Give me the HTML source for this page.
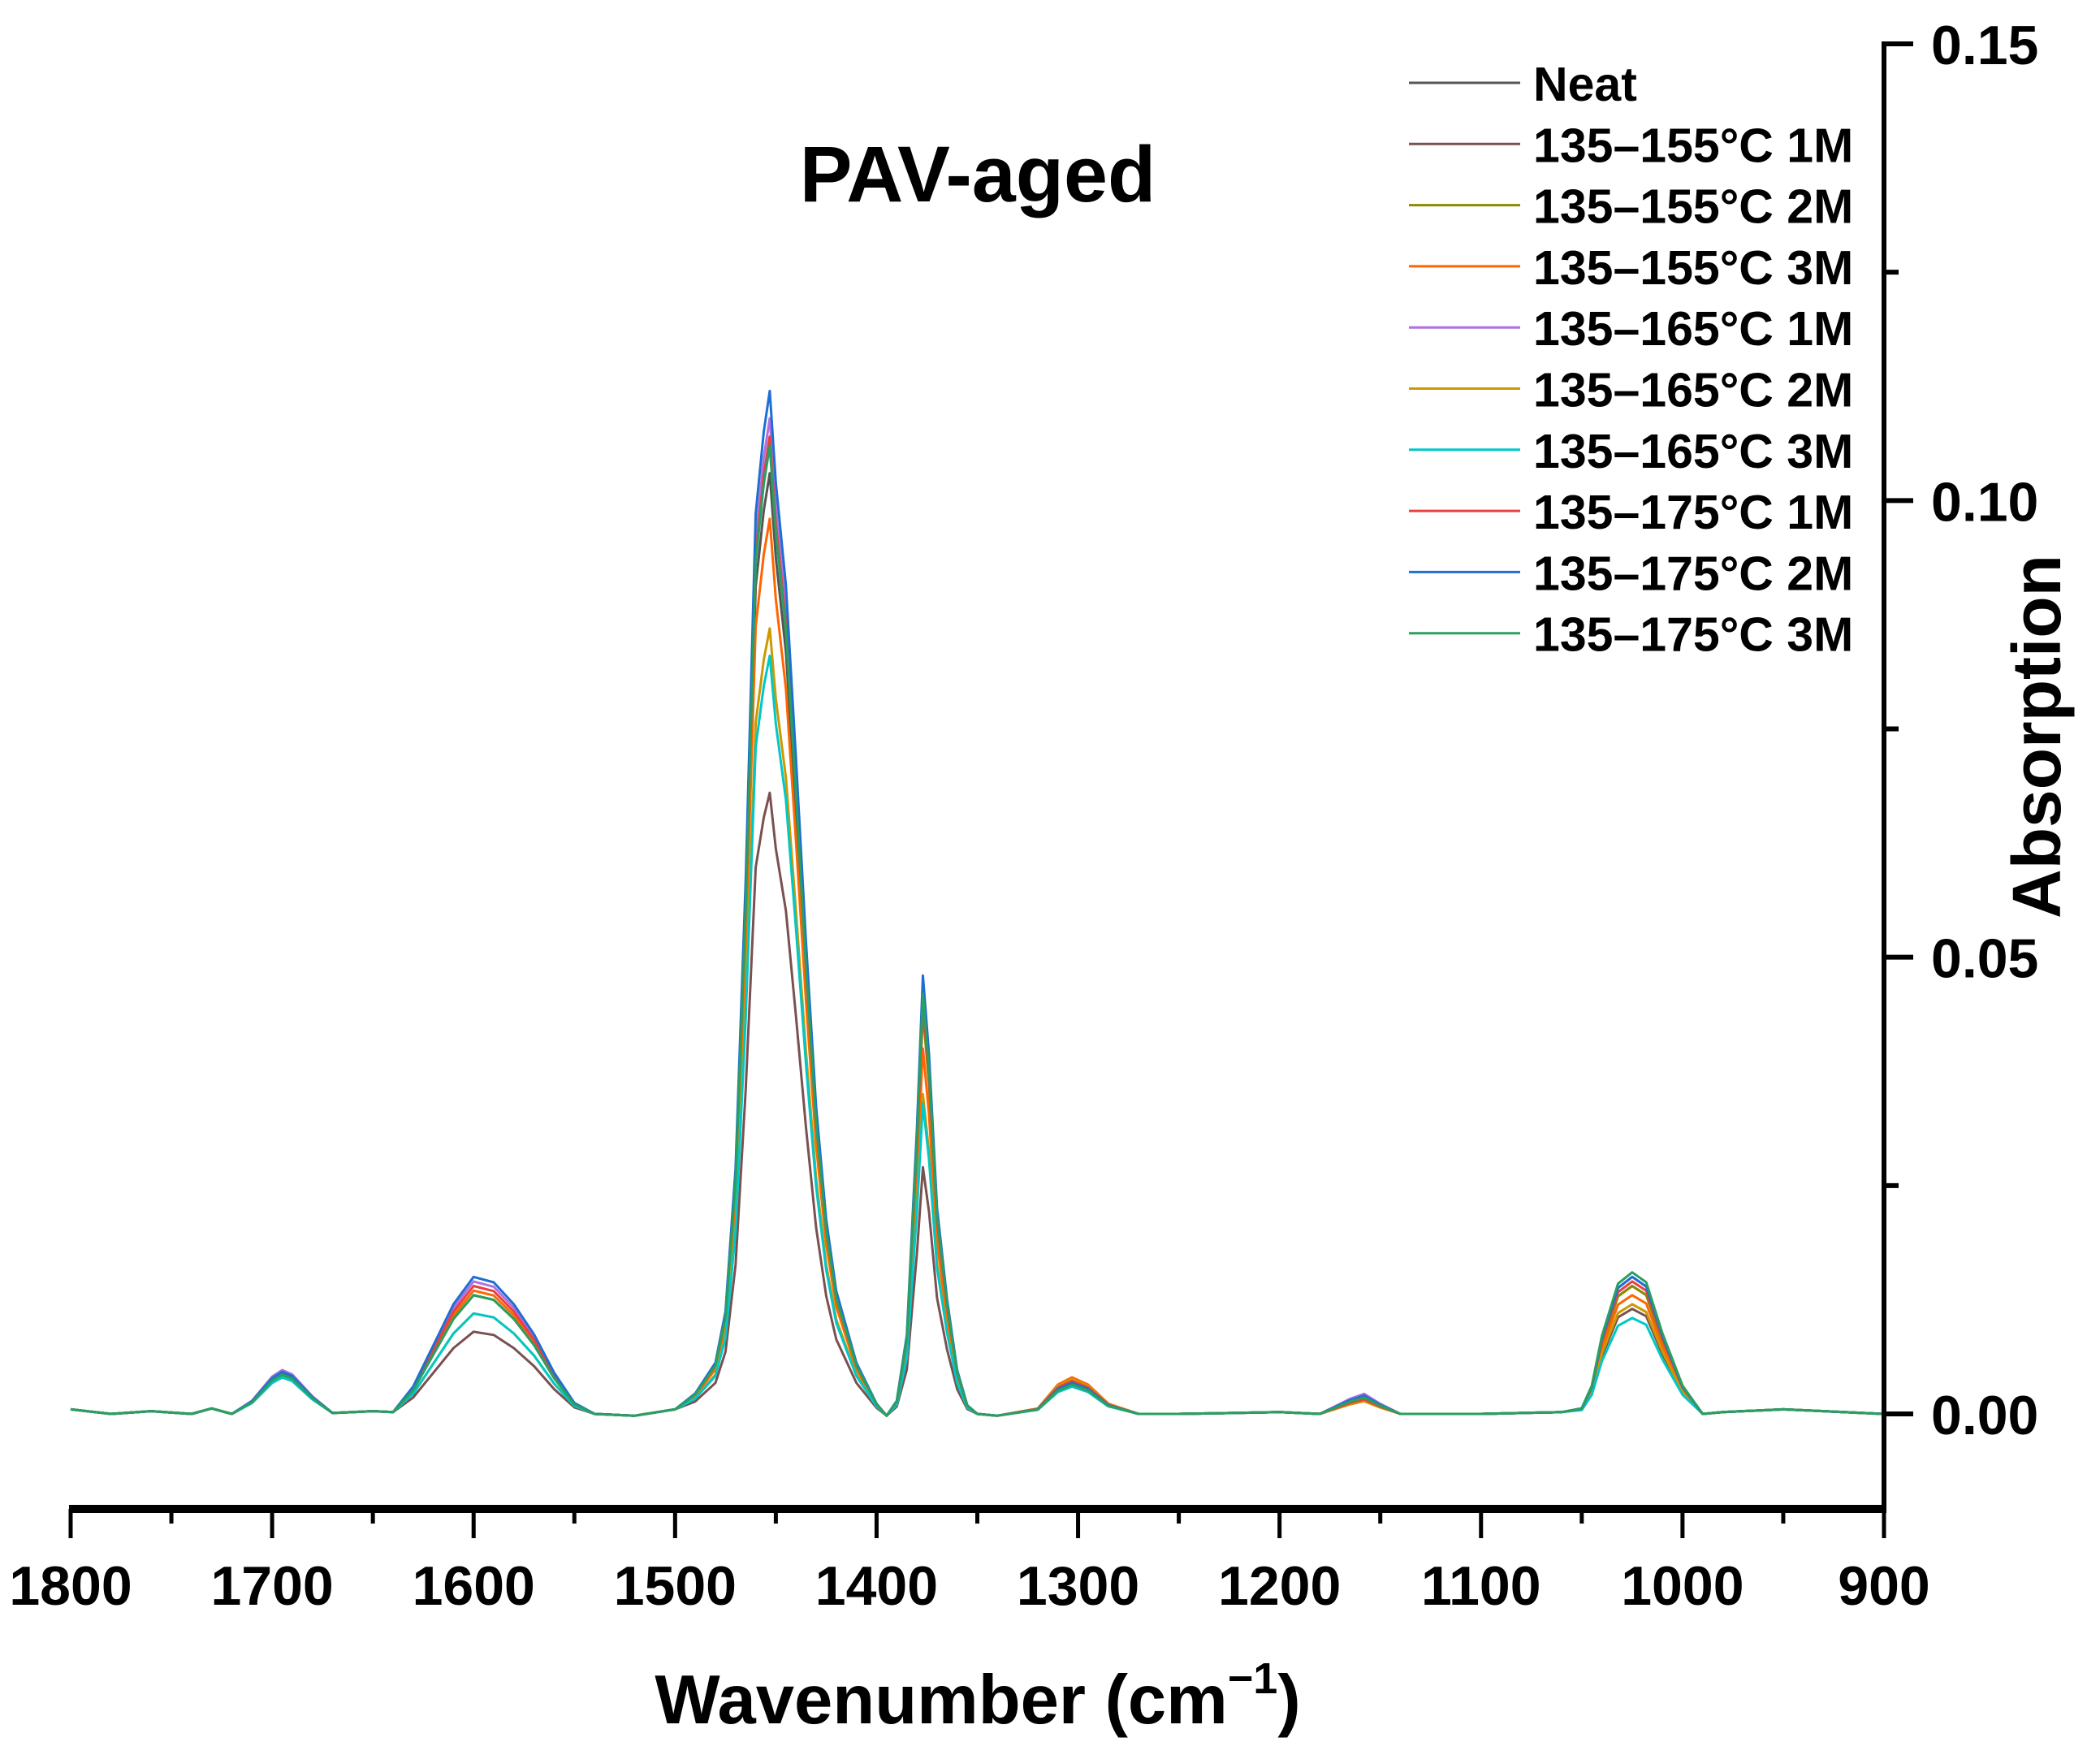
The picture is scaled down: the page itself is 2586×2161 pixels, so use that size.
<!DOCTYPE html>
<html><head><meta charset="utf-8"><style>
html,body{margin:0;padding:0;background:#fff;}
svg{display:block;font-family:"Liberation Sans",Arial,sans-serif;font-weight:bold;}
</style></head><body>
<svg id="chart" width="2586" height="2161" viewBox="0 0 2586 2161" xmlns="http://www.w3.org/2000/svg">
<g id="plot"></g>
<g id="axes"></g>
<g id="legend"></g>
<text x="1204" y="248" font-size="97" text-anchor="middle">PAV-aged</text>
<text x="1204" y="2122" font-size="85" text-anchor="middle">Wavenumber (cm<tspan font-size="54" dy="-37">−1</tspan><tspan dy="37">)</tspan></text>
<text transform="translate(2537,907) rotate(-90)" font-size="84" text-anchor="middle">Absorption</text>
</svg>
<script>
// ---- data ----
const seriesNames = ["Neat","135–155°C 1M","135–155°C 2M","135–155°C 3M","135–165°C 1M","135–165°C 2M","135–165°C 3M","135–175°C 1M","135–175°C 2M","135–175°C 3M"];
const seriesColors = ["#555555","#7a5050","#8b8b00","#ff6600","#b070e0","#cc9900","#00c8c8","#e84040","#1f6ed4","#2aa060"];
// band peak heights (absorbance) per series: 1700, 1600, 1456, 1377, 1303, 1160, 1025 bands
const band1700 = [0.0045,0.0040,0.0042,0.0044,0.0048,0.0043,0.0040,0.0045,0.0046,0.0043];
const band1600 = [0.0130,0.0090,0.0130,0.0135,0.0145,0.0110,0.0110,0.0140,0.0150,0.0130];
const band1456 = [0.103,0.068,0.107,0.098,0.109,0.086,0.083,0.107,0.112,0.106];
const band1377 = [0.045,0.027,0.044,0.040,0.046,0.035,0.034,0.045,0.048,0.046];
const band1303 = [0.0035,0.0030,0.0038,0.0040,0.0036,0.0038,0.0030,0.0036,0.0034,0.0032];
const band1160 = [0.0018,0.0015,0.0016,0.0014,0.0022,0.0014,0.0020,0.0016,0.0020,0.0018];
const band1025 = [0.0140,0.0115,0.0140,0.0130,0.0150,0.0120,0.0105,0.0145,0.0150,0.0155];
// shared normalized band profile: [wavenumber, band index (0 = absolute baseline), fraction]
const profileWn =   [1800,1780,1760,1740,1730,1720,1710,1700,1695,1690,1680,1670,1650,1640,1630,1620,1610,1600,1590,1580,1570,1560,1550,1540,1520,1500,1490,1480,1475,1470,1465,1460,1456,1453,1450,1445,1440,1435,1430,1425,1420,1410,1400,1395,1390,1385,1380,1377,1374,1370,1365,1360,1355,1350,1340,1320,1310,1303,1295,1285,1270,1250,1200,1180,1165,1158,1150,1140,1100,1060,1050,1045,1040,1032,1025,1018,1010,1000,990,980,950,920,900];
const profileBand = [0,0,0,0,0,0,1,1,1,1,1,0,0,0,2,2,2,2,2,2,2,2,2,0,0,0,3,3,3,3,3,3,3,3,3,3,3,3,3,3,3,3,3,0,4,4,4,4,4,4,4,4,4,0,0,5,5,5,5,5,0,0,0,0,6,6,6,0,0,0,7,7,7,7,7,7,7,7,0,0,0,0,0];
const profileFrac = [0.0005,0,0.0003,0,0.0006,0,0.3,0.85,1,0.9,0.4,0.0001,0.0003,0.0002,0.2,0.5,0.8,1,0.96,0.8,0.58,0.3,0.08,0,-0.0002,0.0005,0.02,0.05,0.1,0.24,0.52,0.88,0.96,1,0.91,0.81,0.64,0.46,0.3,0.19,0.12,0.05,0.01,-0.0002,0.03,0.18,0.65,1,0.82,0.47,0.26,0.1,0.02,0,-0.0002,0.15,0.8,1,0.8,0.28,0,0,0.0002,0,0.75,1,0.5,0,0,0.0002,0.04,0.2,0.55,0.92,1,0.93,0.57,0.2,0,0.0002,0.0005,0.0002,0];
const xTicks = [1800,1700,1600,1500,1400,1300,1200,1100,1000,900];
const yTicks = [0.00,0.05,0.10,0.15];

// ---- scales ----
const X0=87, X1=2320, Y0=1741, Y15=54, YB=1858;
function xs(w){return X0+(1800-w)/900*(X1-X0);}
function ys(v){return Y0-v/0.15*(Y0-Y15);}
const NS="http://www.w3.org/2000/svg";
function mk(tag,attrs,parent){const e=document.createElementNS(NS,tag);for(const k in attrs)e.setAttribute(k,attrs[k]);parent.appendChild(e);return e;}
const bands=[null,band1700,band1600,band1456,band1377,band1303,band1160,band1025];
const plot=document.getElementById('plot');
for(let s=0;s<seriesNames.length;s++){
  const pts=[];
  for(let i=0;i<profileWn.length;i++){
    const b=profileBand[i];
    const v=b===0?profileFrac[i]:profileFrac[i]*bands[b][s];
    pts.push(xs(profileWn[i]).toFixed(1)+','+ys(v).toFixed(1));
  }
  const pl=mk('polyline',{points:pts.join(' '),fill:'none',stroke:seriesColors[s],'stroke-width':3,'stroke-linejoin':'round'},plot);
  
  
}
const axes=document.getElementById('axes');
const xa=mk('line',{x1:X0-2,y1:YB,x2:X1+3,y2:YB,stroke:'#000','stroke-width':10},axes);


const ya=mk('line',{x1:X1,y1:Y15-3,x2:X1,y2:YB,stroke:'#000','stroke-width':6},axes);


for(let i=0;i<xTicks.length;i++){
  const x=xs(xTicks[i]);
  const t=mk('line',{x1:x,y1:YB,x2:x,y2:YB+36,stroke:'#000','stroke-width':5},axes);
  
  
  if(i<xTicks.length-1){
    const m=xs(xTicks[i]-50);
    const mt=mk('line',{x1:m,y1:YB,x2:m,y2:YB+18,stroke:'#000','stroke-width':5},axes);
    
    
  }
  const lb=mk('text',{x:x,y:1976,'font-size':68,'text-anchor':'middle'},axes);
  lb.textContent=String(xTicks[i]);
  
  
}
for(let i=0;i<yTicks.length;i++){
  const y=ys(yTicks[i]);
  const t=mk('line',{x1:X1,y1:y,x2:X1+36,y2:y,stroke:'#000','stroke-width':6},axes);
  
  
  if(i<yTicks.length-1){
    const m=ys(yTicks[i]+0.025);
    const mt=mk('line',{x1:X1,y1:m,x2:X1+18,y2:m,stroke:'#000','stroke-width':6},axes);
    
    
  }
  const lb=mk('text',{x:2378,y:y+25,'font-size':68},axes);
  lb.textContent=yTicks[i].toFixed(2);
  
  
}
const lg=document.getElementById('legend');
for(let s=0;s<seriesNames.length;s++){
  const y=102+s*75.3;
  const g=mk('g',{},lg);
  
  
  mk('line',{x1:1735,y1:y,x2:1872,y2:y,stroke:seriesColors[s],'stroke-width':3},g);
  const t=mk('text',{x:1888,y:y+22,'font-size':59},g);
  t.textContent=seriesNames[s];
}
</script>
</body></html>
